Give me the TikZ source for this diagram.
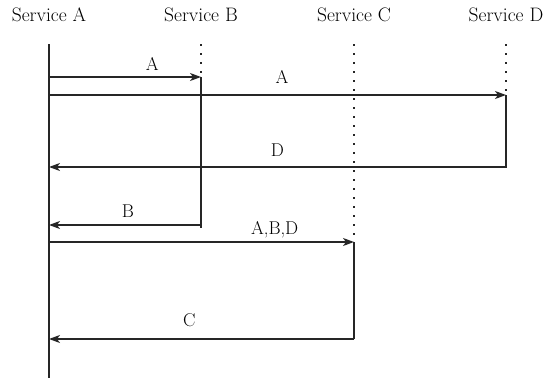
\documentclass[tikz,border=0pt]{standalone}
\usetikzlibrary{arrows.meta,positioning}
\tikzset{svc/.style={anchor=base,inner sep=0pt,text=black,font=\rmfamily\fontsize{19.5}{24}\selectfont},
 life/.style={line width=1.5pt,draw=black!85},
 idle/.style={line width=1.5pt,draw=black!85,dash pattern=on 1.6pt off 7.4pt},
 msg/.style={-{Stealth[length=11pt,width=8pt,inset=3pt]},line width=1.5pt,draw=black!85},
 lbl/.style={inner sep=0pt,text=black,font=\rmfamily\fontsize{18.5}{22}\selectfont}}
\begin{document}
\begin{tikzpicture}[x=1pt,y=-1pt]
\useasboundingbox (0,0) rectangle (550,380);
\node[svc](sa) at (49,21){Service A};\node[svc](sb) at (201,21){Service B};
\node[svc](sc) at (354,21){Service C};\node[svc](sd) at (506,21){Service D};
\coordinate (a0) at (49,44);\coordinate (a1) at (49,378);
\coordinate (b0) at (201,44);\coordinate (b1) at (201,77);\coordinate (b2) at (201,225);
\coordinate (c0) at (354,44);\coordinate (c1) at (354,242);\coordinate (c2) at (354,339);
\coordinate (d0) at (506,44);\coordinate (d1) at (506,95);\coordinate (d2) at (506,167);
\draw[life](a0)--(a1);
\draw[idle](b0)--(b1);\draw[life](b1)--([yshift=-3pt]b2);
\draw[idle](c0)--(c1);\draw[life](c1)--(c2);
\draw[idle](d0)--(d1);\draw[life](d1)--([yshift=-1pt]d2);
\draw[msg](a0 |- b1)--node[lbl,above=6pt,pos=.68]{A}(b1);
\draw[msg](a0 |- d1)--node[lbl,above=11pt,pos=.51]{A}(d1);
\draw[msg](d2)--node[lbl,above=10pt,pos=.5]{D}(a0 |- d2);
\draw[msg](b2)--node[lbl,above=7pt,pos=.48]{B}(a0 |- b2);
\draw[msg](a0 |- c1)--node[lbl,above=3pt,pos=.74]{A,B,D}(c1);
\draw[msg](c2)--node[lbl,above=11pt,pos=.54]{C}(a0 |- c2);
\end{tikzpicture}
\end{document}
